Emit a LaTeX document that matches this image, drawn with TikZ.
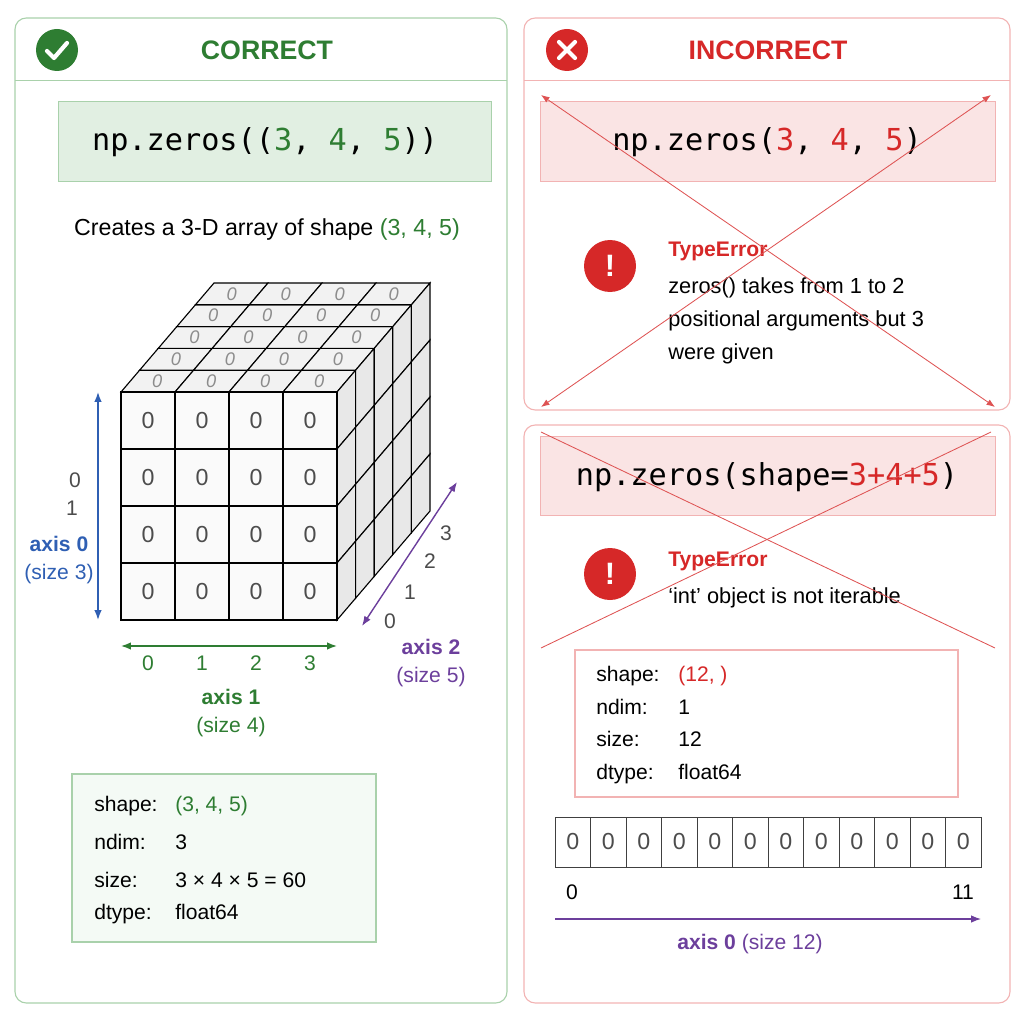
\documentclass[tikz,border=0pt]{standalone}
\usepackage{fontspec}
\setmainfont{Liberation Sans}
\setmonofont{DejaVu Sans Mono}
\usetikzlibrary{arrows.meta}
\definecolor{okgreen}{HTML}{2E7D32}
\definecolor{okfill}{HTML}{EDF6EE}
\definecolor{okline}{HTML}{A9D1AB}
\definecolor{badred}{HTML}{D62828}
\definecolor{badfill}{HTML}{FCE9E9}
\definecolor{badline}{HTML}{F2B3B3}
\definecolor{axblue}{HTML}{2F5FB3}
\definecolor{axpurple}{HTML}{6C3F9C}
\tikzset{
  panel/.style={draw=#1, rounded corners=8pt, line width=0.8pt},
  codebox/.style={draw=#1, fill=#1!35, line width=0.6pt},
  txt/.style={font=\fontsize{15}{18}\selectfont, inner sep=0pt},
  head/.style={font=\fontsize{19}{22}\selectfont\bfseries, inner sep=0pt},
  code/.style={font=\fontsize{21.5}{24}\selectfont\ttfamily, inner sep=0pt},
  cell/.style={draw, line width=0.8pt, fill=white},
  zero/.style={font=\fontsize{16.5}{18}\selectfont, text=black!70},
  axarrow/.style={{Latex[length=7pt]}-{Latex[length=7pt]}, line width=1pt},
}
\begin{document}
\begin{tikzpicture}[x=0.025cm, y=-0.025cm]
\useasboundingbox (0,0) rectangle (1024,1024);
% panels
\draw[panel=okline] (15,18) rectangle (507,1003);
\draw[okline] (15,80) -- (507,80);
\draw[panel=badline] (524,18) rectangle (1010,410);
\draw[badline] (524,80) -- (1010,80);
\draw[panel=badline] (524,425) rectangle (1010,1003);
% headers
\fill[okgreen] (57,50) circle (21);
\draw[white, line width=3pt, line cap=round, line join=round] (47,51) -- (54,58) -- (67,43);
\node[head, text=okgreen] (okhead) at (267,50) {CORRECT};
\fill[badred] (567,50) circle (21);
\draw[white, line width=3pt, line cap=round] (559,42) -- (575,58) (575,42) -- (559,58);
\node[head, text=badred] (badhead) at (768,50) {INCORRECT};
% code boxes
\draw[codebox=okline] (58,101) rectangle (491,181);
\node[code] (okcode) at (265,142) {np.zeros((\textcolor{okgreen}{3}, \textcolor{okgreen}{4}, \textcolor{okgreen}{5}))};
\draw[codebox=badline] (540,101) rectangle (995,181);
\node[code] (badcode1) at (767,142) {np.zeros(\textcolor{badred}{3}, \textcolor{badred}{4}, \textcolor{badred}{5})};
\draw[codebox=badline] (540,436) rectangle (995,515);
\node[code] (badcode2) at (767,477) {np.zeros(shape=\textcolor{badred}{3+4+5})};
\node[txt, font=\fontsize{16.5}{19}\selectfont] (desc) at (267,230) {Creates a 3-D array of shape \textcolor{okgreen}{(3, 4, 5)}};
% cube: top and right faces
\foreach \k in {0,...,4}{
  \foreach \i in {0,...,3}{
    \pgfmathsetmacro{\xa}{121+54*\i+18.6*\k}
    \pgfmathsetmacro{\ya}{392-21.8*\k}
    \draw[fill=black!5, line width=0.8pt] (\xa,\ya) -- ++(54,0) -- ++(18.6,-21.8) -- ++(-54,0) -- cycle;
    \node[font=\fontsize{13}{15}\selectfont\itshape, text=black!45] (top\k\i) at (\xa+36.3,\ya-10.9) {0};
  }
  \foreach \j in {0,...,3}{
    \pgfmathsetmacro{\xa}{337+18.6*\k}
    \pgfmathsetmacro{\ya}{392+57*\j-21.8*\k}
    \draw[fill=black!9, line width=0.8pt] (\xa,\ya) -- ++(0,57) -- ++(18.6,-21.8) -- ++(0,-57) -- cycle;
  }
}
% cube: front face
\foreach \j in {0,...,3}{
  \foreach \i in {0,...,3}{
    \node[cell, fill=black!2, minimum width=54*0.025cm, minimum height=57*0.025cm, zero] (c\j\i) at (148+54*\i,420.5+57*\j) {0};
  }
}
% axes of the cube
\coordinate (a0s) at (98,392); \coordinate (a0e) at (98,620);
\draw[axarrow, axblue] (a0s) -- (a0e);
\node[txt, text=black!70] (a0l0) at (75,480) {0};
\node[txt, text=black!70] (a0l1) at (72,508) {1};
\node[txt, text=axblue, font=\fontsize{15}{18}\selectfont\bfseries] (a0n) at (59,544) {axis 0};
\node[txt, text=axblue] (a0z) at (59,574) {(size 3)};
\coordinate (a1s) at (121,646); \coordinate (a1e) at (337,646);
\draw[axarrow, okgreen] (a1s) -- (a1e);
\foreach \i in {0,...,3}{
  \node[txt, text=okgreen] (a1l\i) at (148+54*\i,663) {\i};
}
\node[txt, text=okgreen, font=\fontsize{15}{18}\selectfont\bfseries] (a1n) at (231,697) {axis 1};
\node[txt, text=okgreen] (a1z) at (231,727) {(size 4)};
\coordinate (a2s) at (362,626); \coordinate (a2e) at (457,482);
\draw[axarrow, axpurple] (a2s) -- (a2e);
\node[txt, text=black!70] (a2l0) at (390,621) {0};
\node[txt, text=black!70] (a2l1) at (410,592) {1};
\node[txt, text=black!70] (a2l2) at (430,561) {2};
\node[txt, text=black!70] (a2l3) at (446,533) {3};
\node[txt, text=axpurple, font=\fontsize{15}{18}\selectfont\bfseries] (a2n) at (431,647) {axis 2};
\node[txt, text=axpurple] (a2z) at (431,677) {(size 5)};
% info box, correct
\draw[okline, fill=okfill!60, line width=0.8pt] (72,774) rectangle (376,942);
\node[txt, anchor=base west] (okk1) at (94,811) {shape:};
\node[txt, anchor=base west, text=okgreen] (okv1) at (175,811) {(3, 4, 5)};
\node[txt, anchor=base west] (okk2) at (94,849) {ndim:};
\node[txt, anchor=base west] (okv2) at (175,849) {3};
\node[txt, anchor=base west] (okk3) at (94,887) {size:};
\node[txt, anchor=base west] (okv3) at (175,887) {3 × 4 × 5 = 60};
\node[txt, anchor=base west] (okk4) at (94,919) {dtype:};
\node[txt, anchor=base west] (okv4) at (175,919) {float64};
% errors
\fill[badred] (610,266) circle (26);
\node[text=white, font=\fontsize{22}{24}\selectfont\bfseries] (err1) at (610,266) {!};
\node[txt, anchor=west, text=badred, font=\fontsize{15}{18}\selectfont\bfseries] (te1) at (668,251) {TypeError};
\node[txt, anchor=west, font=\fontsize{15.5}{18}\selectfont] (m1) at (668,288) {zeros() takes from 1 to 2};
\node[txt, anchor=west, font=\fontsize{15.5}{18}\selectfont] (m2) at (668,321) {positional arguments but 3};
\node[txt, anchor=west, font=\fontsize{15.5}{18}\selectfont] (m3) at (668,354) {were given};
\fill[badred] (610,574) circle (26);
\node[text=white, font=\fontsize{22}{24}\selectfont\bfseries] (err2) at (610,574) {!};
\node[txt, anchor=west, text=badred, font=\fontsize{15}{18}\selectfont\bfseries] (te2) at (668,561) {TypeError};
\node[txt, anchor=west, font=\fontsize{15.5}{18}\selectfont] (m4) at (668,598) {‘int’ object is not iterable};
% cross-outs
\coordinate (x1a) at (541,95);  \coordinate (x1b) at (995,407);
\coordinate (x1c) at (991,95);  \coordinate (x1d) at (541,407);
\draw[badred!80, line width=0.6pt, {Latex[length=6pt]}-{Latex[length=6pt]}] (x1a) -- (x1b);
\draw[badred!80, line width=0.6pt, {Latex[length=6pt]}-{Latex[length=6pt]}] (x1c) -- (x1d);
\coordinate (x2a) at (541,432); \coordinate (x2b) at (995,648);
\coordinate (x2c) at (991,432); \coordinate (x2d) at (541,648);
\draw[badred!80, line width=0.6pt] (x2a) -- (x2b);
\draw[badred!80, line width=0.6pt] (x2c) -- (x2d);
% info box, incorrect
\draw[badline, fill=white, line width=0.8pt] (575,650) rectangle (958,797);
\node[txt, anchor=base west] (bk1) at (596,681) {shape:};
\node[txt, anchor=base west, text=badred] (bv1) at (678,681) {(12, )};
\node[txt, anchor=base west] (bk2) at (596,714) {ndim:};
\node[txt, anchor=base west] (bv2) at (678,714) {1};
\node[txt, anchor=base west] (bk3) at (596,746) {size:};
\node[txt, anchor=base west] (bv3) at (678,746) {12};
\node[txt, anchor=base west] (bk4) at (596,779) {dtype:};
\node[txt, anchor=base west] (bv4) at (678,779) {float64};
% flat array
\foreach \i in {0,...,11}{
  \node[cell, draw=black!75, line width=0.6pt, minimum width=35.5*0.025cm, minimum height=50*0.025cm, zero] (f\i) at (572.75+35.5*\i,842) {0};
}
\node[txt] (fl0) at (572,892) {0};
\node[txt] (fl11) at (963,892) {11};
\coordinate (fa) at (555,919); \coordinate (fb) at (981,919);
\draw[axpurple, line width=0.8pt, -{Latex[length=7pt]}] (fa) -- (fb);
\node[txt, text=axpurple] (fn) at (750,944) {\textbf{axis 0} (size 12)};
\end{tikzpicture}
\end{document}
